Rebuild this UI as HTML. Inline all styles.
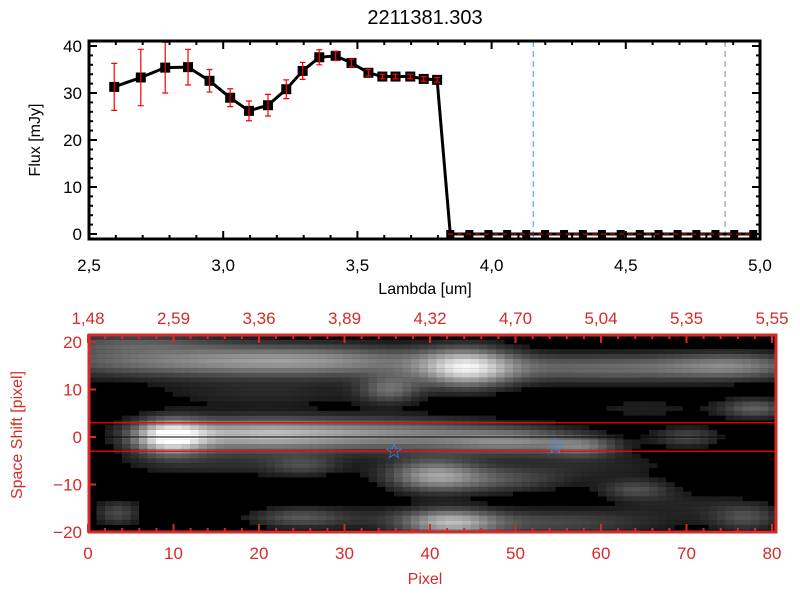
<!DOCTYPE html>
<html><head><meta charset="utf-8"><style>
body{margin:0;background:#fff;width:800px;height:600px;overflow:hidden}
svg{display:block;font-family:"Liberation Sans",sans-serif}
</style></head><body>
<svg id="chart" width="800" height="600" viewBox="0 0 800 600" xmlns="http://www.w3.org/2000/svg">
<rect width="800" height="600" fill="#fff"/>
<text x="425" y="24" font-size="20" text-anchor="middle">2211381.303</text>
<g id="top"></g>
<g id="bot"></g>
</svg>
<script>
// ---- spectrum data ----
const lambdas = [2.594,2.693,2.784,2.869,2.949,3.026,3.096,3.167,3.235,3.296,3.358,3.419,3.478,3.541,3.593,3.642,3.697,3.747,3.797,3.846,3.917,3.988,4.058,4.129,4.199,4.270,4.340,4.411,4.481,4.552,4.622,4.693,4.763,4.834,4.904,4.975];
const fluxes = [31.3,33.3,35.4,35.5,32.6,29.0,26.2,27.4,30.8,34.7,37.6,37.9,36.4,34.3,33.5,33.5,33.5,33.0,32.8,0,0,0,0,0,0,0,0,0,0,0,0,0,0,0,0,0];
const fluxErrs = [5.0,6.0,5.4,3.8,2.4,1.9,2.1,2.3,2.0,1.8,1.6,1.0,0.8,0.7,0.5,0.5,0.5,0.5,0.5,0,0,0,0,0,0,0,0,0,0,0,0,0,0,0,0,0];
const xTicks = [2.5,3.0,3.5,4.0,4.5,5.0];
const xTickLabels = ["2,5","3,0","3,5","4,0","4,5","5,0"];
const yTicks = [0,10,20,30,40];
const blueLine = 4.155, greyLine = 4.87;
// ---- image data ----
const pixTicks = [0,10,20,30,40,50,60,70,80];
const topLabels = ["1,48","2,59","3,36","3,89","4,32","4,70","5,04","5,35","5,55"];
const shiftTicks = [-20,-10,0,10,20];
// blobs: [centerPixel, centerShift, sigmaX, sigmaY, amplitude]
const blobs = [
 [10,16,14,2.5,.55],[28,16,10,2.5,.45],[44,14.5,4,3,.85],[60,14.5,12,2.2,.5],[76,15,6,2,.45],
 [35,10,2.5,2,.45],[4,20,8,1.5,.3],
 [9,0,3,2.5,1.0],[18,0.5,8,2.5,.75],[35,0.5,10,2.5,.6],[50,-1,6,2,.5],[58,-2,3,1.5,.4],[70,0,3,1.5,.35],
 [40,-8,4,2.5,.65],[48,-9,6,2,.35],[64,-11,3,1.5,.35],[42,-18,4,2,.7],[54,-18,10,2,.35],[77,-17,3,2,.35],
 [3,-16,2,2,.35],[24,-17,4,1.5,.3],[78,6,3,1.5,.45],[25,-6,3,1.5,.25],
 [20,9,10,2,.18],[15,-6,10,2,.18],[60,-6,8,2,.16],[65,6,6,2,.15],[30,-17,8,2,.15],[70,-14,6,2,.15]
];
const starsPix = [36,55], starsShift = [-3,-2];
const apertureShifts = [3,-3];

const NS="http://www.w3.org/2000/svg";
function el(tag,attrs,parent){const e=document.createElementNS(NS,tag);for(const k in attrs)e.setAttribute(k,attrs[k]);parent.appendChild(e);return e;}
const topG=document.getElementById('top');
const L=89,R=760,T=41,B=239;
const xs=v=>L+(v-2.5)/2.5*(R-L);
const ys=v=>234-(v)*4.7;
let e;
e=el('line',{x1:xs(blueLine),x2:xs(blueLine),y1:T,y2:B,stroke:'#3399ff','stroke-width':1,'stroke-dasharray':'6,4'},topG);


e=el('line',{x1:xs(greyLine),x2:xs(greyLine),y1:T,y2:B,stroke:'#888','stroke-width':1,'stroke-dasharray':'6,4'},topG);


let d='';lambdas.forEach((l,i)=>{d+=(i?'L':'M')+xs(l)+','+ys(fluxes[i]);});
e=el('path',{d:d,fill:'none',stroke:'#000','stroke-width':3},topG);


lambdas.forEach((l,i)=>{
 const x=xs(l),y=ys(fluxes[i]);
 const s=fluxes[i]>0?10:8;
 const m=el('rect',{x:x-s/2,y:y-s/2,width:s,height:s,fill:'#000'},topG);
 
 
 if(fluxErrs[i]>0){
  const y1=ys(fluxes[i]+fluxErrs[i]),y2=ys(fluxes[i]-fluxErrs[i]);
  const g=el('path',{d:`M${x},${y1}V${y2}M${x-3},${y1}h6M${x-3},${y2}h6`,stroke:'#f00','stroke-width':1.2,fill:'none'},topG);
  
  
 }
});
e=el('line',{x1:448,x2:R,y1:ys(0),y2:ys(0),stroke:'#f00','stroke-width':1,'stroke-dasharray':'5,4'},topG);


e=el('rect',{x:L,y:T,width:R-L,height:B-T,fill:'none',stroke:'#000','stroke-width':3},topG);


for(let k=0;k<=25;k++){const v=2.5+k*0.1;const x=xs(v);const len=(k%5==0)?8:4;
 el('line',{x1:x,x2:x,y1:B,y2:B-len,stroke:'#000','stroke-width':2},topG);el('line',{x1:x,x2:x,y1:T,y2:T+len,stroke:'#000','stroke-width':2},topG);}
for(let v=0;v<=41;v+=2){const y=ys(v);const len=v%10==0?8:4;
 el('line',{x1:L,x2:L+len,y1:y,y2:y,stroke:'#000','stroke-width':2},topG);el('line',{x1:R,x2:R-len,y1:y,y2:y,stroke:'#000','stroke-width':2},topG);}
xTicks.forEach((v,i)=>{const t=el('text',{x:xs(v),y:271,'font-size':17,'text-anchor':'middle'},topG);t.textContent=xTickLabels[i];
 
 });
yTicks.forEach(v=>{const t=el('text',{x:82,y:ys(v)+6,'font-size':17,'text-anchor':'end'},topG);t.textContent=v;
 
 });
e=el('text',{x:425,y:294,'font-size':16,'text-anchor':'middle'},topG);e.textContent='Lambda [um]';


e=el('text',{x:0,y:0,'font-size':16,'text-anchor':'middle',transform:'translate(40,140) rotate(-90)'},topG);e.textContent='Flux [mJy]';



// bottom image
const botG=document.getElementById('bot');
const BL=89,BR=776,BT=335,BB=532;
const px=v=>88+(v+0.5)*8.5;
const sy=v=>437-v*4.75;
const red='#d42a2a';
const img=el('g',{},botG);


el('rect',{x:BL,y:BT,width:BR-BL,height:BB-BT,fill:'#000'},img);
for(let i=0;i<81;i++){for(let j=-21;j<=21;j++){
 let v=0;blobs.forEach(b=>{v+=b[4]*Math.exp(-((i-b[0])**2)/(2*b[2]*b[2])-((j-b[1])**2)/(2*b[3]*b[3]));});
 v=Math.min(1,v*0.82);if(v<0.1)continue;
 const g=Math.round(v*255);
 const x=px(i)-4.25,y=sy(j)-2.375;
 const x0=Math.max(x,BL),x1=Math.min(x+8.55,BR),y0=Math.max(y,BT),y1=Math.min(y+4.8,BB);
 if(x1<=x0||y1<=y0)continue;
 const c=el('rect',{x:x0,y:y0,width:x1-x0,height:y1-y0,fill:`rgb(${g},${g},${g})`},img);
 
 
}}
e=el('line',{x1:BL,x2:BR,y1:sy(0),y2:sy(0),stroke:'#000','stroke-width':1},botG);


apertureShifts.forEach(s=>{const a=el('line',{x1:BL,x2:BR,y1:sy(s),y2:sy(s),stroke:'#f00','stroke-width':1.3},botG);
 
 });
starsPix.forEach((p,i)=>{const t=el('text',{x:px(p)-0.5*8.5,y:sy(starsShift[i])+7,'font-size':22,'text-anchor':'middle',fill:'#2f8fff'},botG);t.textContent='☆';
 
 });
e=el('rect',{x:BL,y:BT,width:BR-BL,height:BB-BT,fill:'none',stroke:red,'stroke-width':3},botG);


for(let v=0;v<=80;v+=2){const x=88+v*8.55;const len=v%10==0?8:4;
 el('line',{x1:x,x2:x,y1:BB,y2:BB-len,stroke:red,'stroke-width':2},botG);el('line',{x1:x,x2:x,y1:BT,y2:BT+len,stroke:red,'stroke-width':2},botG);}
for(let v=-20;v<=20;v+=10){const y=sy(v);el('line',{x1:BL,x2:BL+7,y1:y,y2:y,stroke:red,'stroke-width':2},botG);}
pixTicks.forEach((v,i)=>{const x=88+v*8.55;
 const t=el('text',{x:x,y:559,'font-size':17,'text-anchor':'middle',fill:red},botG);t.textContent=v;
 
 
 const u=el('text',{x:x,y:324,'font-size':17,'text-anchor':'middle',fill:red},botG);u.textContent=topLabels[i];
 
 });
shiftTicks.forEach(v=>{const t=el('text',{x:82,y:sy(v)+6,'font-size':17,'text-anchor':'end',fill:red},botG);t.textContent=(v<0?'−':'')+Math.abs(v);
 
 });
e=el('text',{x:425,y:584,'font-size':16,'text-anchor':'middle',fill:red},botG);e.textContent='Pixel';


e=el('text',{x:0,y:0,'font-size':16,'text-anchor':'middle',fill:red,transform:'translate(22,435) rotate(-90)'},botG);e.textContent='Space Shift [pixel]';


</script>
</body></html>
